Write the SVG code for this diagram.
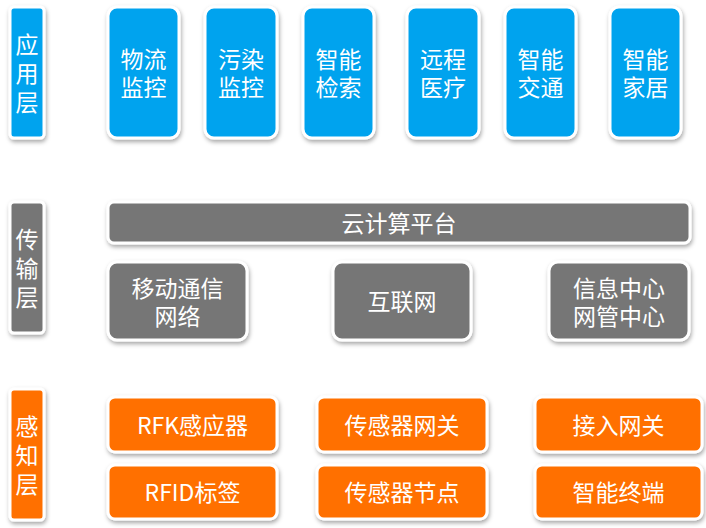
<svg xmlns="http://www.w3.org/2000/svg" width="706" height="528" viewBox="0 0 706 528">
<defs>
<filter id="sh" x="-20%" y="-20%" width="140%" height="150%">
<feDropShadow dx="1" dy="2.5" stdDeviation="2" flood-color="#000" flood-opacity="0.35"/>
</filter>
</defs>
<style>
.b{fill:#02A3EE;stroke:#fff;stroke-width:3;filter:url(#sh)}
.g{fill:#767676;stroke:#fff;stroke-width:3;filter:url(#sh)}
.o{fill:#FF7000;stroke:#fff;stroke-width:3;filter:url(#sh)}
text{font-family:"Noto Sans CJK SC","Microsoft YaHei",sans-serif;font-size:23px;fill:#fff;text-anchor:middle;dominant-baseline:central}
</style>
<rect width="706" height="528" fill="#fff"/>
<g id="layer-app">
<rect class="b" x="10" y="7" width="34" height="131" rx="4"/>
<text x="27" y="43"><tspan x="27">应</tspan><tspan x="27" dy="29">用</tspan><tspan x="27" dy="29">层</tspan></text>
</g>
<g id="app1"><rect class="b" x="108" y="7" width="71" height="131" rx="9"/><text x="143.5" y="58"><tspan x="143.5">物流</tspan><tspan x="143.5" dy="28">监控</tspan></text></g>
<g id="app2"><rect class="b" x="205" y="7" width="72" height="131" rx="9"/><text x="241" y="58"><tspan x="241">污染</tspan><tspan x="241" dy="28">监控</tspan></text></g>
<g id="app3"><rect class="b" x="303" y="7" width="71" height="131" rx="9"/><text x="338.5" y="58"><tspan x="338.5">智能</tspan><tspan x="338.5" dy="28">检索</tspan></text></g>
<g id="app4"><rect class="b" x="407" y="7" width="72" height="131" rx="9"/><text x="443" y="58"><tspan x="443">远程</tspan><tspan x="443" dy="28">医疗</tspan></text></g>
<g id="app5"><rect class="b" x="505" y="7" width="71" height="131" rx="9"/><text x="540.5" y="58"><tspan x="540.5">智能</tspan><tspan x="540.5" dy="28">交通</tspan></text></g>
<g id="app6"><rect class="b" x="610" y="7" width="71" height="131" rx="9"/><text x="645.5" y="58"><tspan x="645.5">智能</tspan><tspan x="645.5" dy="28">家居</tspan></text></g>

<g id="layer-trans">
<rect class="g" x="10" y="202" width="34" height="131" rx="4"/>
<text x="27" y="238"><tspan x="27">传</tspan><tspan x="27" dy="29">输</tspan><tspan x="27" dy="29">层</tspan></text>
</g>
<g id="cloud"><rect class="g" x="108" y="202" width="582" height="41" rx="6"/><text x="399" y="222">云计算平台</text></g>
<g id="mobile"><rect class="g" x="108" y="262" width="139" height="78" rx="9"/><text x="177.5" y="287"><tspan x="177.5">移动通信</tspan><tspan x="177.5" dy="28">网络</tspan></text></g>
<g id="internet"><rect class="g" x="333" y="262" width="138" height="78" rx="9"/><text x="402" y="300">互联网</text></g>
<g id="center"><rect class="g" x="549" y="262" width="140" height="78" rx="9"/><text x="619" y="287"><tspan x="619">信息中心</tspan><tspan x="619" dy="28">网管中心</tspan></text></g>

<g id="layer-sense">
<rect class="o" x="10" y="389" width="34" height="131" rx="4"/>
<text x="27" y="425"><tspan x="27">感</tspan><tspan x="27" dy="29">知</tspan><tspan x="27" dy="29">层</tspan></text>
</g>
<g id="rfk"><rect class="o" x="108" y="397" width="169" height="55" rx="7"/><text x="192.5" y="424">RFK感应器</text></g>
<g id="gw"><rect class="o" x="317" y="397" width="170" height="55" rx="7"/><text x="402" y="424">传感器网关</text></g>
<g id="access"><rect class="o" x="535" y="397" width="167" height="55" rx="7"/><text x="618.5" y="424">接入网关</text></g>
<g id="rfid"><rect class="o" x="108" y="465" width="169" height="54" rx="7"/><text x="192.5" y="491">RFID标签</text></g>
<g id="node"><rect class="o" x="317" y="465" width="170" height="54" rx="7"/><text x="402" y="491">传感器节点</text></g>
<g id="term"><rect class="o" x="535" y="465" width="167" height="54" rx="7"/><text x="618.5" y="491">智能终端</text></g>
<g id="connectors"/>
</svg>
